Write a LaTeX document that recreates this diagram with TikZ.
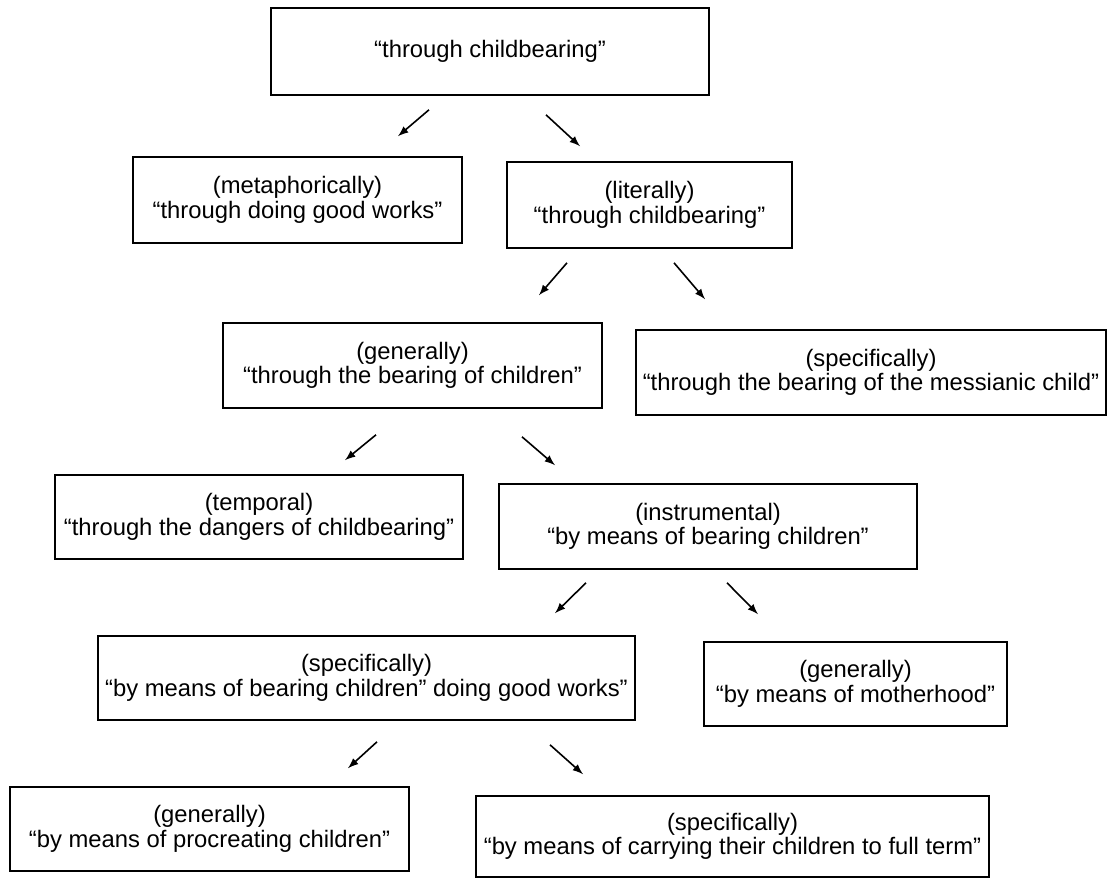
\documentclass[tikz,border=0pt]{standalone}
\usepackage{fontspec}
\setmainfont{Liberation Sans}
\usepackage{tikz}
\usetikzlibrary{calc,arrows,positioning}

\begin{document}
\begin{tikzpicture}[x=0.5pt,y=-0.5pt,
		box/.style={draw,line width=0.8pt,align=center,inner sep=0pt,font=\fontsize{11.9}{12.2}\selectfont},
		arr/.style={-latex,line width=0.8pt}]
		\useasboundingbox (0,0) rectangle (1109,879);
		% boxes
		\node[box,minimum width=219pt,minimum height=43.5pt] (top) at (490,51.5) {“through childbearing”};
		\node[box,minimum width=164.5pt,minimum height=43pt] (metaph) at (297.5,200) {(metaphorically)\\“through doing good works”};
		\node[box,minimum width=142.5pt,minimum height=43pt] (literal) at (649.5,205) {(literally)\\“through childbearing”};
		\node[box,minimum width=189.5pt,minimum height=42.5pt] (general) at (412.5,365.5) {(generally)\\“through the bearing of children”};
		\node[box,minimum width=235pt,minimum height=42.5pt] (messiah) at (871,372.5) {(specifically)\\“through the bearing of the messianic child”};
		\node[box,minimum width=204pt,minimum height=42pt] (temporal) at (259,517) {(temporal)\\“through the dangers of childbearing”};
		\node[box,minimum width=209pt,minimum height=42.5pt] (instrum) at (708,526.5) {(instrumental)\\“by means of bearing children”};
		\node[box,minimum width=268.5pt,minimum height=42pt] (specific) at (366.5,678) {(specifically)\\“by means of bearing children” doing good works”};
		\node[box,minimum width=151.5pt,minimum height=42pt] (mother) at (855.5,684) {(generally)\\“by means of motherhood”};
		\node[box,minimum width=199.5pt,minimum height=42pt] (procreate) at (209.5,829) {(generally)\\“by means of procreating children”};
		\node[box,minimum width=256.5pt,minimum height=40.5pt] (carrying) at (732.5,836.5) {(specifically)\\“by means of carrying their children to full term”};
		% arrows
		\draw[arr] ([shift={(-61,14)}]top.south) -- ([shift={(100.5,-20)}]metaph.north);
		\draw[arr] ([shift={(56,19)}]top.south) -- ([shift={(-69.5,-15)}]literal.north);
		\draw[arr] ([shift={(-82.5,14)}]literal.south) -- ([shift={(126.5,-27)}]general.north);
		\draw[arr] ([shift={(24.5,14)}]literal.south) -- ([shift={(-166,-30)}]messiah.north);
		\draw[arr] ([shift={(-36.5,26)}]general.south) -- ([shift={(86,-14)}]temporal.north);
		\draw[arr] ([shift={(109.5,28)}]general.south) -- ([shift={(-153,-18)}]instrum.north);
		\draw[arr] ([shift={(-122,13)}]instrum.south) -- ([shift={(188.5,-22)}]specific.north);
		\draw[arr] ([shift={(19,13)}]instrum.south) -- ([shift={(-97.5,-27)}]mother.north);
		\draw[arr] ([shift={(10.5,21)}]specific.south) -- ([shift={(138.5,-18)}]procreate.north);
		\draw[arr] ([shift={(183.5,24)}]specific.south) -- ([shift={(-149.5,-21)}]carrying.north);
\end{tikzpicture}
\end{document}
